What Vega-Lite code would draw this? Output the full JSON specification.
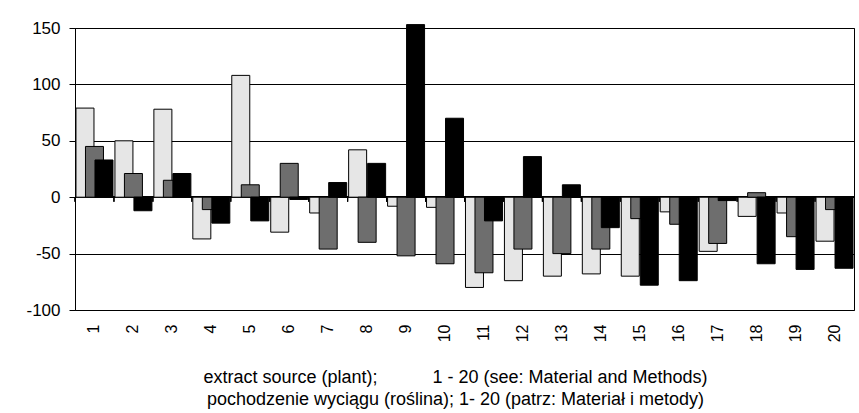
{
  "$schema": "https://vega.github.io/schema/vega-lite/v6.json",
  "autosize": {"type": "none"},
  "padding": {"left": 75, "top": 28, "right": 5, "bottom": 103},
  "width": 779,
  "height": 282,
  "background": "white",
  "data": {"values": [
    {"cat": 1, "s": "a", "v": 79}, {"cat": 2, "s": "a", "v": 50}, {"cat": 3, "s": "a", "v": 78}, {"cat": 4, "s": "a", "v": -37},
    {"cat": 5, "s": "a", "v": 108}, {"cat": 6, "s": "a", "v": -31}, {"cat": 7, "s": "a", "v": -14}, {"cat": 8, "s": "a", "v": 42},
    {"cat": 9, "s": "a", "v": -8}, {"cat": 10, "s": "a", "v": -9}, {"cat": 11, "s": "a", "v": -80}, {"cat": 12, "s": "a", "v": -74},
    {"cat": 13, "s": "a", "v": -70}, {"cat": 14, "s": "a", "v": -68}, {"cat": 15, "s": "a", "v": -70}, {"cat": 16, "s": "a", "v": -13},
    {"cat": 17, "s": "a", "v": -48}, {"cat": 18, "s": "a", "v": -17}, {"cat": 19, "s": "a", "v": -14}, {"cat": 20, "s": "a", "v": -39},
    {"cat": 1, "s": "b", "v": 45}, {"cat": 2, "s": "b", "v": 21}, {"cat": 3, "s": "b", "v": 15}, {"cat": 4, "s": "b", "v": -11},
    {"cat": 5, "s": "b", "v": 11}, {"cat": 6, "s": "b", "v": 30}, {"cat": 7, "s": "b", "v": -46}, {"cat": 8, "s": "b", "v": -40},
    {"cat": 9, "s": "b", "v": -52}, {"cat": 10, "s": "b", "v": -59}, {"cat": 11, "s": "b", "v": -67}, {"cat": 12, "s": "b", "v": -46},
    {"cat": 13, "s": "b", "v": -50}, {"cat": 14, "s": "b", "v": -46}, {"cat": 15, "s": "b", "v": -19}, {"cat": 16, "s": "b", "v": -24},
    {"cat": 17, "s": "b", "v": -41}, {"cat": 18, "s": "b", "v": 4}, {"cat": 19, "s": "b", "v": -35}, {"cat": 20, "s": "b", "v": -11},
    {"cat": 1, "s": "c", "v": 33}, {"cat": 2, "s": "c", "v": -12}, {"cat": 3, "s": "c", "v": 21}, {"cat": 4, "s": "c", "v": -23},
    {"cat": 5, "s": "c", "v": -21}, {"cat": 6, "s": "c", "v": -2}, {"cat": 7, "s": "c", "v": 13}, {"cat": 8, "s": "c", "v": 30},
    {"cat": 9, "s": "c", "v": 153}, {"cat": 10, "s": "c", "v": 70}, {"cat": 11, "s": "c", "v": -21}, {"cat": 12, "s": "c", "v": 36},
    {"cat": 13, "s": "c", "v": 11}, {"cat": 14, "s": "c", "v": -27}, {"cat": 15, "s": "c", "v": -78}, {"cat": 16, "s": "c", "v": -74},
    {"cat": 17, "s": "c", "v": -3}, {"cat": 18, "s": "c", "v": -59}, {"cat": 19, "s": "c", "v": -64}, {"cat": 20, "s": "c", "v": -63}
  ]},
  "config": {
    "font": "Liberation Sans",
    "view": {"stroke": "black", "strokeWidth": 1},
    "axis": {"labelColor": "black", "titleColor": "black", "labelFont": "Liberation Sans", "titleFont": "Liberation Sans"}
  },
  "layer": [
    {
      "mark": {"type": "rule", "color": "black", "strokeWidth": 1},
      "encoding": {"y": {"datum": 0, "type": "quantitative"}}
    },
    {
      "mark": {"type": "rule", "color": "black", "strokeWidth": 1},
      "encoding": {
        "x": {"field": "cat", "type": "ordinal", "bandPosition": 0},
        "y": {"datum": 0, "type": "quantitative"},
        "y2": {"datum": -4}
      }
    },
    {
      "mark": {"type": "bar", "width": 18, "stroke": "black", "strokeWidth": 1},
      "encoding": {
        "x": {
          "field": "cat", "type": "ordinal",
          "scale": {"paddingInner": 0, "paddingOuter": 0},
          "axis": {
            "title": ["extract source (plant);\u00a0\u00a0\u00a0\u00a0\u00a0\u00a0\u00a0\u00a0\u00a0\u00a0 1 - 20 (see: Material and Methods)", "pochodzenie wyciągu (roślina); 1- 20 (patrz: Materiał i metody)"],
            "labelAngle": -90,
            "labelFontSize": 16,
            "labelPadding": 14,
            "ticks": false,
            "domain": false,
            "grid": false,
            "titleFontSize": 18,
            "titleFontWeight": "normal",
            "titleLineHeight": 22,
            "titlePadding": 27,
            "titleX": 380
          }
        },
        "xOffset": {"field": "s", "type": "nominal", "scale": {"paddingInner": 0, "paddingOuter": 0.55}},
        "y": {
          "field": "v", "type": "quantitative",
          "scale": {"domain": [-100, 150], "nice": false},
          "axis": {
            "title": null,
            "values": [-100, -50, 0, 50, 100, 150],
            "labelExpr": "replace(datum.label, '\u2212', '-')",
            "labelFontSize": 17,
            "labelPadding": 9,
            "tickSize": 6,
            "tickColor": "black",
            "domainColor": "black",
            "grid": true,
            "gridColor": "black",
            "gridOpacity": 1,
            "gridWidth": 1
          }
        },
        "fill": {"field": "s", "type": "nominal", "scale": {"domain": ["a", "b", "c"], "range": ["#e6e6e6", "#6e6e6e", "#000000"]}, "legend": null}
      }
    }
  ]
}
